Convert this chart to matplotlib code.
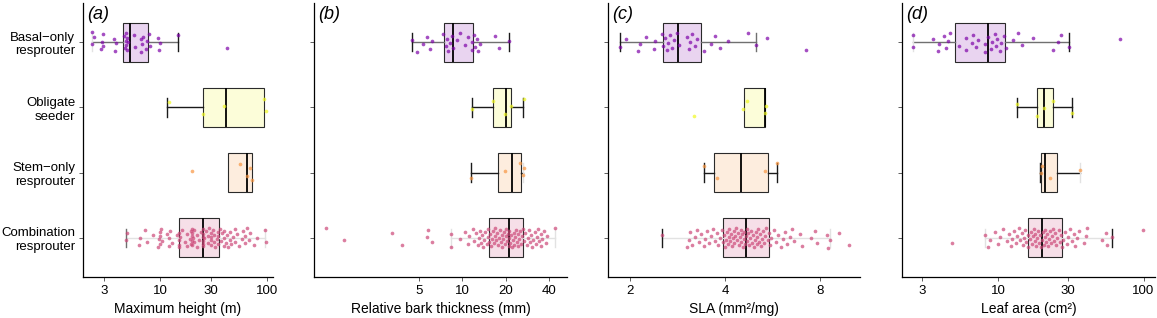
import numpy as np
import matplotlib
matplotlib.use("Agg")
import matplotlib.pyplot as plt

plt.rcParams['font.family'] = ['Liberation Sans', 'DejaVu Sans']

groups = ["Basal\u2212only\nresprouter", "Obligate\nseeder", "Stem\u2212only\nresprouter", "Combination\nresprouter"]
colors = ["#7e03a8", "#f0f921", "#f89540", "#cc4778"]

# ---- panel (a) maximum height (m)
height_basal = [2.3, 2.33, 2.4, 2.8, 2.85, 2.9, 2.95, 3.7, 3.8, 3.85, 4.6, 4.7, 4.75, 4.8, 4.85, 4.9,
                4.95, 5.0, 5.7, 5.8, 6.6, 6.7, 6.8, 6.9, 7.4, 7.6, 7.9, 8.0, 9.6, 9.8, 10.0, 14.8, 42]
height_obligate = [12, 25, 40, 93, 97]
height_stem = [20, 56, 65, 70, 72]
height_comb = [4.8, 4.9, 6.4, 6.5, 7.2, 7.6, 8.5, 9.6, 9.8, 10, 10, 10, 10.2, 10.5, 11.5, 12, 12, 12.3,
               13, 14.5, 15, 15, 15, 15.2, 15.5, 16, 17, 18, 18, 19, 19.5, 19.5, 20, 20, 20, 20, 20,
               20.5, 21, 21, 22, 22, 23, 24, 25, 25, 25, 25, 25, 25, 26, 27, 28, 28, 29, 30, 30, 30,
               30, 31, 32, 32, 33, 34, 35, 35, 35, 36, 37, 38, 40, 40, 40, 41, 42, 43, 45, 45, 46, 48,
               50, 50, 52, 55, 58, 60, 62, 63, 65, 68, 70, 75, 80, 95, 97]
# box stats: q1, median, q3, whisker low, whisker high
height_box = [(4.54, 5.25, 7.78, 2.33, 14.8), (25, 41, 94.5, 11.7, 94.5),
              (43.5, 64.6, 72, 43.5, 72), (15, 25, 35.3, 4.78, 95)]

# ---- panel (b) relative bark thickness (mm)
bark_basal = [4.5, 4.87, 5.36, 5.69, 6.0, 6.19, 7.38, 7.67, 7.83, 8.0, 8.22, 8.44, 8.67, 9.23, 9.69,
              10.5, 11.0, 11.6, 11.7, 12.1, 12.3, 12.6, 12.8, 13.3, 16.9, 18.0, 21.2]
bark_obligate = [11.7, 16.3, 19.9, 21.7, 26.8]
bark_stem = [11.5, 19.9, 25.2, 26.5, 26.8]
bark_comb = [1.13, 1.51, 3.23, 3.83, 5.7, 5.8, 6.2, 8.3, 8.4, 9.6, 10.4, 11.0, 11.2, 11.8, 12.0, 12.5,
             12.8, 13.0, 13.2, 13.5, 13.8, 14.0, 14.2, 14.5, 14.8, 15.0, 15.2, 15.4, 15.6, 15.8, 16.0,
             16.3, 16.5, 16.8, 17.0, 17.2, 17.5, 17.8, 18.0, 18.2, 18.5, 18.8, 19.0, 19.2, 19.5, 19.8,
             20.0, 20.2, 20.5, 20.8, 21.0, 21.1, 21.3, 21.6, 21.9, 22.2, 22.5, 22.8, 23.0, 23.3, 23.6,
             24.0, 24.3, 24.6, 25.0, 25.3, 25.6, 26.0, 26.5, 27.0, 27.5, 28.0, 28.5, 29.0, 29.5, 30.0,
             30.5, 31.0, 32.0, 32.5, 33.0, 33.5, 34.0, 35.0, 35.5, 36.0, 37.0, 38.0, 39.0, 44.3]
bark_box = [(7.5, 8.6, 11.9, 4.5, 21.2), (16.3, 20, 21.7, 11.7, 26.5),
            (17.6, 22.3, 25.6, 11.5, 26.5), (15.4, 21.1, 26.5, 8.3, 44.3)]

# ---- panel (c) SLA (mm2/mg)
sla_basal = [1.85, 1.94, 2.12, 2.14, 2.25, 2.38, 2.40, 2.52, 2.54, 2.57, 2.61, 2.63, 2.68, 2.72, 2.76,
             2.81, 2.86, 3.03, 3.08, 3.10, 3.14, 3.22, 3.26, 3.42, 3.61, 3.70, 3.86, 4.08, 4.74, 5.01,
             5.42, 7.19]
sla_obligate = [3.18, 4.57, 4.68, 5.33, 5.38]
sla_stem = [3.42, 3.77, 5.33, 5.83]
sla_comb = [2.52, 3.03, 3.08, 3.1, 3.15, 3.2, 3.26, 3.3, 3.35, 3.42, 3.45, 3.5, 3.55, 3.6, 3.65, 3.7,
            3.77, 3.8, 3.85, 3.9, 3.95, 3.97, 4.0, 4.02, 4.05, 4.08, 4.1, 4.12, 4.15, 4.18, 4.2, 4.22,
            4.25, 4.28, 4.3, 4.33, 4.36, 4.4, 4.42, 4.45, 4.48, 4.5, 4.52, 4.55, 4.58, 4.6, 4.62, 4.65,
            4.68, 4.7, 4.73, 4.76, 4.8, 4.83, 4.86, 4.9, 4.93, 4.96, 5.0, 5.03, 5.06, 5.1, 5.13, 5.16,
            5.2, 5.24, 5.28, 5.32, 5.36, 5.4, 5.45, 5.5, 5.55, 5.6, 5.7, 5.8, 5.9, 6.0, 6.1, 6.2, 6.3,
            6.4, 6.5, 6.6, 6.9, 7.0, 7.5, 7.7, 7.8, 8.4, 8.5, 8.6, 9.16, 9.87]
sla_box = [(2.54, 2.83, 3.34, 1.85, 5.01), (4.58, 5.33, 5.33, 4.58, 5.33),
           (3.68, 4.49, 5.46, 3.42, 5.83), (3.95, 4.65, 5.50, 2.52, 8.60)]

# ---- panel (d) leaf area (cm2)
leaf_basal = [2.57, 2.59, 3.56, 3.86, 3.92, 4.25, 4.36, 4.50, 4.65, 5.38, 5.98, 6.03, 6.62, 6.72, 6.98,
              7.28, 8.09, 8.14, 8.53, 8.91, 9.06, 9.48, 9.7, 9.78, 10.3, 10.4, 11.0, 11.3, 12.6, 13.7,
              14.6, 17.3, 23.9, 25.9, 27.1, 30.9, 69]
leaf_obligate = [13.4, 18.4, 20.5, 23.9, 32.4]
leaf_stem = [19.8, 20.0, 22.6, 36.6]
leaf_comb = [4.77, 8.1, 8.5, 8.8, 9.5, 10.0, 10.3, 10.7, 11.5, 11.8, 12.2, 12.5, 12.8, 13.2, 13.5,
             13.8, 14.2, 14.5, 14.8, 15.0, 15.3, 15.6, 15.9, 16.1, 16.4, 16.7, 17.0, 17.2, 17.5, 17.8,
             18.0, 18.3, 18.6, 18.9, 19.2, 19.5, 19.8, 20.0, 20.2, 20.5, 20.8, 21.0, 21.3, 21.6, 22.0,
             22.3, 22.6, 23.0, 23.4, 23.8, 24.2, 24.6, 25.0, 25.5, 26.0, 26.5, 27.0, 27.4, 28.0, 28.8,
             29.5, 30.2, 31.0, 32.0, 33.0, 34.0, 35.0, 36.0, 39.0, 40.0, 41.0, 52.0, 55.0, 56.0, 60.5,
             99.5]
leaf_box = [(5.05, 8.53, 11.2, 2.57, 30.9), (18.4, 20.6, 23.9, 13.5, 32.4),
            (19.8, 21.1, 25.5, 19.5, 36.6), (15.9, 20.1, 27.4, 8.13, 60.5)]

LIGHT, MID, DARK = "#e2e2e2", "#707070", "#1a1a1a"
panels = [
    dict(tag="(a)", label="Maximum height (m)", data=[height_basal, height_obligate, height_stem, height_comb],
         box=height_box, xlim=(1.9, 114), ticks=[3, 10, 30, 100],
         caps=[(LIGHT, DARK), (DARK, None), (None, None), (MID, LIGHT)], left=83, width=190),
    dict(tag="(b)", label="Relative bark thickness (mm)", data=[bark_basal, bark_obligate, bark_stem, bark_comb],
         box=bark_box, xlim=(0.93, 53.5), ticks=[5, 10, 20, 40],
         caps=[(DARK, DARK), (DARK, DARK), (DARK, LIGHT), (LIGHT, LIGHT)], left=314, width=253),
    dict(tag="(c)", label="SLA (mm\u00b2/mg)", data=[sla_basal, sla_obligate, sla_stem, sla_comb],
         box=sla_box, xlim=(1.70, 10.7), ticks=[2, 4, 8],
         caps=[(DARK, MID), (None, None), (DARK, DARK), (DARK, LIGHT)], left=608, width=252),
    dict(tag="(d)", label="Leaf area (cm\u00b2)", data=[leaf_basal, leaf_obligate, leaf_stem, leaf_comb],
         box=leaf_box, xlim=(2.17, 120), ticks=[3, 10, 30, 100],
         caps=[(LIGHT, DARK), (DARK, DARK), (DARK, LIGHT), (LIGHT, DARK)], left=902, width=253),
]
whisk_cols = [MID, DARK, DARK, LIGHT]

W, H = 1157, 318
fig = plt.figure(figsize=(W / 100, H / 100), dpi=100)

for k, p in enumerate(panels):
    ax = fig.add_axes([p["left"] / W, 41 / H, p["width"] / W, 274 / H])
    ax.set_xscale("log")
    stats = [dict(q1=b[0], med=b[1], q3=b[2], whislo=b[3], whishi=b[4], fliers=[]) for b in p["box"]]
    bp = ax.bxp(stats, positions=[1, 2, 3, 4], widths=0.6, capwidths=0.28, orientation="horizontal",
                patch_artist=True, showfliers=False, manage_ticks=False,
                medianprops=dict(color="black", lw=1.3),
                boxprops=dict(edgecolor="#2a2a2a", lw=0.8),
                whiskerprops=dict(lw=1.0), capprops=dict(lw=1.0))
    for i, c in enumerate(colors):
        bp["boxes"][i].set_facecolor(matplotlib.colors.to_rgba(c, 0.17))
        for w in bp["whiskers"][2 * i:2 * i + 2]:
            w.set_color(whisk_cols[i])
        for cap, cc in zip(bp["caps"][2 * i:2 * i + 2], p["caps"][i]):
            if cc is None:
                cap.set_visible(False)
            else:
                cap.set_color(cc)
        vals = np.array(p["data"][i])
        n = len(vals)
        jit = (((np.arange(n) * 0.6180339887 + 0.37 * k + 0.21 * i) % 1.0) * 2 - 1) * 0.15
        ax.scatter(vals, i + 1 + jit, s=7, color=c, alpha=0.7, lw=0, zorder=4)

    ax.set_ylim(4.6, 0.4)
    ax.set_xlim(*p["xlim"])
    ax.set_xticks(p["ticks"])
    ax.set_xticklabels([str(t) for t in p["ticks"]])
    ax.xaxis.set_minor_locator(matplotlib.ticker.NullLocator())
    ax.set_yticks([1, 2, 3, 4])
    if k == 0:
        ax.set_yticklabels(groups, fontsize=10, color="black")
    else:
        ax.set_yticklabels([])
    ax.tick_params(axis="both", length=3, width=0.6, color="#444444", labelsize=9.5, pad=2.5)
    ax.tick_params(axis="x", pad=3)
    ax.set_xlabel(p["label"], fontsize=10, labelpad=3)
    for s in ["top", "right"]:
        ax.spines[s].set_visible(False)
    for s in ["left", "bottom"]:
        ax.spines[s].set_linewidth(0.9)
    ax.text(4 / p["width"], 1 - 3 / 274, p["tag"], transform=ax.transAxes, ha="left", va="top",
            fontsize=13, style="italic")

fig.savefig("out.png", dpi=100)
